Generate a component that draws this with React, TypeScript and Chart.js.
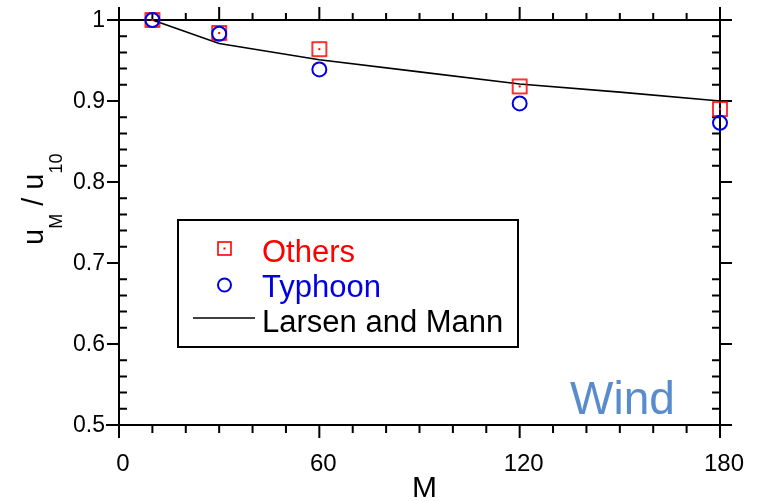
import React, { useEffect, useRef } from "react";
import { Chart, registerables } from "chart.js";

Chart.register(...registerables);

// ---- data ----
const mValues = [10, 30, 60, 120, 180];
const othersValues = [1.0, 0.984, 0.964, 0.918, 0.89];
const typhoonValues = [1.0, 0.983, 0.939, 0.897, 0.873];
const larsenM = [10, 30, 60, 90, 120, 150, 180];
const larsenValues = [1.0, 0.971, 0.951, 0.936, 0.921, 0.911, 0.9];
const xTickLabels = [0, 60, 120, 180];
const yTickLabels = [0.5, 0.6, 0.7, 0.8, 0.9, 1];
const seriesLabels = ["Others", "Typhoon", "Larsen and Mann"];

const FONT = "'Liberation Sans', Arial, sans-serif";
const RED = "#ff0000";
const BLUE = "#0000e0";

function makeSquareMarker(size: number): HTMLCanvasElement {
  const c = document.createElement("canvas");
  c.width = size + 4;
  c.height = size + 4;
  const g = c.getContext("2d")!;
  g.strokeStyle = RED;
  g.lineWidth = 1.6;
  g.strokeRect(2, 2, size, size);
  g.fillStyle = RED;
  const mid = (size + 4) / 2;
  g.fillRect(mid - 1, mid - 1, 2, 2);
  return c;
}

const axesPlugin = {
  id: "customAxes",
  beforeDatasetsDraw(chart: any) {
    const { ctx, chartArea } = chart;
    const xs = chart.scales.x;
    const ys = chart.scales.y;
    const { left, right, top, bottom } = chartArea;
    ctx.save();
    ctx.strokeStyle = "#000";
    ctx.lineWidth = 2;
    ctx.lineCap = "butt";
    ctx.beginPath();
    // frame lines, extended beyond corners
    ctx.moveTo(left - 12, top); ctx.lineTo(right + 12, top);
    ctx.moveTo(left - 13, bottom); ctx.lineTo(right + 12, bottom);
    ctx.moveTo(left, top - 13); ctx.lineTo(left, bottom + 13);
    ctx.moveTo(right, top - 13); ctx.lineTo(right, bottom + 13);
    // x ticks
    for (let v = 0; v <= 180; v += 10) {
      const px = xs.getPixelForValue(v);
      const majorB = v % 60 === 0;
      const majorT = v % 60 === 0 || v === 30;
      ctx.moveTo(px, bottom); ctx.lineTo(px, bottom + (majorB ? 13 : 8));
      ctx.moveTo(px, top); ctx.lineTo(px, top - (majorT ? 13 : 7));
    }
    // y ticks
    for (let i = 0; i <= 25; i++) {
      const v = 0.5 + i * 0.02;
      const py = ys.getPixelForValue(v);
      const major = i % 5 === 0;
      if (major) {
        ctx.moveTo(left, py); ctx.lineTo(left - 12, py);
        ctx.moveTo(right, py); ctx.lineTo(right + 12, py);
      } else {
        ctx.moveTo(left, py); ctx.lineTo(left + 8, py);
        ctx.moveTo(right, py); ctx.lineTo(right - 8, py);
      }
    }
    ctx.stroke();

    // tick labels
    ctx.fillStyle = "#000";
    ctx.font = `23px ${FONT}`;
    ctx.textAlign = "right";
    ctx.textBaseline = "middle";
    yTickLabels.forEach((v) => {
      ctx.fillText(String(v), left - 14, ys.getPixelForValue(v) + 1);
    });
    ctx.font = `24px ${FONT}`;
    ctx.textAlign = "center";
    xTickLabels.forEach((v) => {
      ctx.fillText(String(v), xs.getPixelForValue(v) + 4, bottom + 39);
    });

    // x title
    ctx.font = `30px ${FONT}`;
    ctx.textBaseline = "alphabetic";
    ctx.fillText("M", (left + right) / 2 + 5, 497);

    // y title (rotated, with subscripts)
    ctx.save();
    ctx.translate(43, 195);
    ctx.rotate(-Math.PI / 2);
    ctx.textAlign = "left";
    ctx.textBaseline = "alphabetic";
    const parts: [string, boolean][] = [["u", false], ["M", true], [" / ", false], ["u", false], ["10", true]];
    let x = -50;
    parts.forEach(([t, sub]) => {
      ctx.font = sub ? `18px ${FONT}` : `29px ${FONT}`;
      ctx.fillText(t, x, sub ? 19 : 0);
      x += ctx.measureText(t).width;
    });
    ctx.restore();
    ctx.restore();
  },
  afterDraw(chart: any) {
    const { ctx } = chart;
    ctx.save();
    // legend box
    ctx.strokeStyle = "#000";
    ctx.lineWidth = 2;
    ctx.strokeRect(178, 220, 340, 127);
    ctx.font = `31px ${FONT}`;
    ctx.textAlign = "left";
    ctx.textBaseline = "alphabetic";
    // Others
    ctx.strokeStyle = RED;
    ctx.lineWidth = 1.6;
    ctx.strokeRect(218, 242, 13, 13);
    ctx.fillStyle = RED;
    ctx.fillRect(223.5, 247.5, 2, 2);
    ctx.fillText(seriesLabels[0], 262, 262);
    // Typhoon
    ctx.strokeStyle = BLUE;
    ctx.lineWidth = 2;
    ctx.beginPath();
    ctx.arc(224.5, 285, 6.5, 0, Math.PI * 2);
    ctx.stroke();
    ctx.fillStyle = BLUE;
    ctx.fillText(seriesLabels[1], 262, 297);
    // Larsen
    ctx.strokeStyle = "#000";
    ctx.lineWidth = 1.5;
    ctx.beginPath();
    ctx.moveTo(193, 318);
    ctx.lineTo(255, 318);
    ctx.stroke();
    ctx.fillStyle = "#000";
    ctx.fillText(seriesLabels[2], 262, 332);
    // Wind label
    ctx.fillStyle = "rgb(88,140,206)";
    ctx.font = `46px ${FONT}`;
    ctx.fillText("Wind", 570, 414);
    ctx.restore();
  },
};

export default function App() {
  const ref = useRef<HTMLCanvasElement>(null);
  useEffect(() => {
    if (!ref.current) return;
    const square = makeSquareMarker(14);
    const chart = new Chart(ref.current, {
      type: "scatter",
      data: {
        datasets: [
          {
            label: seriesLabels[2],
            data: larsenM.map((m, i) => ({ x: m, y: larsenValues[i] })),
            showLine: true,
            borderColor: "#000",
            borderWidth: 1.6,
            pointRadius: 0,
            fill: false,
            clip: false,
            order: 3,
          } as any,
          {
            label: seriesLabels[0],
            data: mValues.map((m, i) => ({ x: m, y: othersValues[i] })),
            pointStyle: square,
            pointRadius: 8,
            borderColor: RED,
            backgroundColor: "transparent",
            clip: false,
            order: 2,
          } as any,
          {
            label: seriesLabels[1],
            data: mValues.map((m, i) => ({ x: m, y: typhoonValues[i] })),
            pointStyle: "circle",
            pointRadius: 7,
            borderWidth: 2,
            borderColor: BLUE,
            backgroundColor: "rgba(0,0,0,0)",
            clip: false,
            order: 1,
          } as any,
        ],
      },
      options: {
        animation: false,
        responsive: false,
        devicePixelRatio: 1,
        layout: { padding: { left: 119, right: 39, top: 20, bottom: 76 } },
        scales: {
          x: { type: "linear", min: 0, max: 180, display: false },
          y: { type: "linear", min: 0.5, max: 1, display: false },
        },
        plugins: { legend: { display: false }, tooltip: { enabled: false } },
      },
      plugins: [axesPlugin],
    });
    return () => chart.destroy();
  }, []);
  return (
    <div style={{ position: "fixed", left: 0, top: 0, width: 759, height: 501, background: "#fff" }}>
      <canvas ref={ref} width={759} height={501} />
    </div>
  );
}
